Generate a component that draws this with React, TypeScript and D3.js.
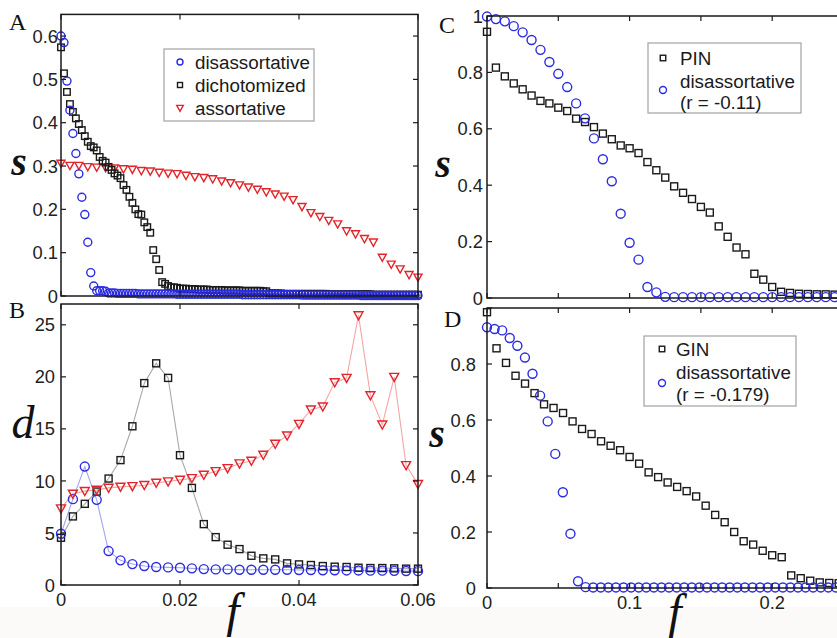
import React from "react";
import * as d3 from "d3";

// ---------------- DATA ----------------
// Panel A: s vs f (f step 0.0005 for circles/squares, 0.0015 for triangles)
const A_F_STEP = 0.0005;
const A_TRI_STEP = 0.0015;
const aDisassortative = [
  0.6, 0.585, 0.496, 0.429, 0.375, 0.329, 0.282, 0.228, 0.188, 0.124, 0.054, 0.023, 0.012, 0.012, 0.012, 0.011,
  0.007, 0.007, 0.007, 0.006, 0.006, 0.006, 0.006, 0.006, 0.006, 0.006, 0.005, 0.005, 0.005, 0.005, 0.005, 0.005,
  0.005, 0.005, 0.005, 0.005, 0.005, 0.005, 0.005, 0.004, 0.004,
  0.004, 0.004, 0.004, 0.004, 0.004, 0.004, 0.004, 0.004, 0.004, 0.004, 0.004, 0.004, 0.004, 0.004, 0.004, 0.004,
  0.004, 0.004, 0.004, 0.004, 0.003, 0.003, 0.003, 0.003, 0.003, 0.003, 0.003, 0.003, 0.003, 0.003, 0.003, 0.003,
  0.003, 0.003, 0.003, 0.003, 0.003, 0.003, 0.003, 0.003,
  0.002, 0.002, 0.002, 0.002, 0.002, 0.002, 0.002, 0.002, 0.002, 0.002, 0.002, 0.002, 0.002, 0.002, 0.002, 0.002,
  0.002, 0.002, 0.002, 0.002, 0.001, 0.001, 0.001, 0.001, 0.001, 0.001, 0.001, 0.001, 0.001, 0.001, 0.001, 0.001,
  0.001, 0.001, 0.001, 0.001, 0.001, 0.001, 0.001, 0.001,
];
const aDichotomized = [
  0.574, 0.514, 0.471, 0.443, 0.425, 0.41, 0.397, 0.383, 0.369, 0.356, 0.346, 0.343, 0.336, 0.321, 0.312, 0.308,
  0.298, 0.291, 0.283, 0.278, 0.272, 0.256, 0.245, 0.229, 0.215, 0.2, 0.189, 0.188, 0.17, 0.159, 0.146, 0.106,
  0.085, 0.06, 0.032, 0.028, 0.023, 0.02, 0.02, 0.019, 0.017,
  0.017, 0.017, 0.016, 0.016, 0.016, 0.015, 0.015, 0.015, 0.015, 0.014, 0.014, 0.014, 0.014, 0.014, 0.013, 0.013,
  0.013, 0.013, 0.013, 0.013, 0.012, 0.012, 0.012, 0.012, 0.012, 0.012, 0.012, 0.011, 0.011,
  0.006, 0.006, 0.006, 0.006, 0.006, 0.005, 0.005, 0.005, 0.005, 0.005, 0.005, 0.005, 0.005, 0.005, 0.005, 0.005,
  0.005, 0.005, 0.005, 0.005, 0.004, 0.004, 0.004, 0.004, 0.004, 0.004, 0.004, 0.004, 0.004, 0.004, 0.004, 0.004,
  0.004, 0.004, 0.004, 0.003, 0.003, 0.003, 0.003, 0.003, 0.003, 0.003, 0.003, 0.003, 0.003, 0.003, 0.003, 0.003,
  0.003, 0.003, 0.003,
];
const aAssortative = [
  0.306, 0.301, 0.301, 0.298, 0.297, 0.296, 0.295, 0.293, 0.292, 0.289, 0.288, 0.285, 0.283, 0.282, 0.278, 0.275,
  0.273, 0.27, 0.265, 0.261, 0.256, 0.251, 0.246, 0.24, 0.235, 0.23, 0.222, 0.206, 0.192, 0.183, 0.174, 0.166,
  0.15, 0.143, 0.132, 0.124, 0.089, 0.073, 0.062, 0.049, 0.043,
];

// Panel B: d vs f (f step 0.002)
const B_F_STEP = 0.002;
const bDisassortative = [
  4.92, 8.25, 11.38, 8.18, 3.26, 2.37, 2.01, 1.82, 1.73, 1.69, 1.66, 1.6, 1.53, 1.5, 1.5, 1.47,
  1.47, 1.47, 1.47, 1.47, 1.44, 1.44, 1.42, 1.42, 1.4, 1.4, 1.38, 1.38, 1.36, 1.35, 1.33,
];
const bDichotomized = [
  4.54, 6.59, 7.8, 8.98, 10.23, 12.0, 15.25, 19.4, 21.3, 19.9, 12.47, 9.33, 5.85, 4.6, 3.87, 3.45,
  2.81, 2.56, 2.46, 2.08, 1.98, 1.92, 1.82, 1.76, 1.73, 1.66, 1.63, 1.63, 1.6, 1.57, 1.57,
];
const bAssortative = [
  7.35, 8.76, 9.02, 9.14, 9.33, 9.43, 9.49, 9.59, 9.81, 9.94, 10.1, 10.26, 10.58, 10.93, 11.22, 11.67,
  11.92, 12.5, 13.56, 14.35, 15.47, 16.85, 17.14, 19.47, 19.89, 25.9, 18.22, 15.41, 19.98, 11.5, 9.69,
];

// Panel C: s vs f (f step 1/160)
const C_F_STEP = 0.00625;
const cPIN = [
  0.944, 0.817, 0.786, 0.761, 0.74, 0.718, 0.699, 0.69, 0.675, 0.663, 0.636, 0.624, 0.606, 0.583, 0.563, 0.541,
  0.531, 0.514, 0.482, 0.453, 0.427, 0.396, 0.373, 0.351, 0.323, 0.303, 0.254, 0.217, 0.179, 0.155, 0.086, 0.065,
  0.039, 0.022, 0.018, 0.015, 0.014, 0.013, 0.013, 0.012, 0.012,
];
const cDisassortative = [
  0.998, 0.989, 0.981, 0.964, 0.942, 0.915, 0.88, 0.837, 0.795, 0.748, 0.69, 0.637, 0.566, 0.492, 0.414, 0.299,
  0.196, 0.136, 0.039, 0.02, 0.004, 0.003, 0.003, 0.003, 0.003, 0.003, 0.003, 0.003, 0.003, 0.003, 0.003, 0.003,
  0.003, 0.003, 0.003, 0.003, 0.003, 0.003, 0.003, 0.003, 0.003,
];

// Panel D: s vs f (squares step 1/150, circles step 0.25/47)
const D_SQ_STEP = 1 / 150;
const D_CI_STEP = 0.25 / 47;
const dGIN = [
  0.985, 0.856, 0.804, 0.758, 0.73, 0.696, 0.656, 0.643, 0.625, 0.595, 0.568, 0.55, 0.524, 0.508, 0.492, 0.468,
  0.444, 0.413, 0.396, 0.377, 0.361, 0.346, 0.327, 0.294, 0.261, 0.235, 0.2, 0.167, 0.155, 0.133, 0.117, 0.11,
  0.045, 0.035, 0.026, 0.02, 0.018, 0.017,
];
const dDisassortative = [
  0.931, 0.925, 0.92, 0.893, 0.865, 0.823, 0.765, 0.687, 0.595, 0.479, 0.342, 0.194, 0.024, 0.003, 0.002, 0.002,
  0.002, 0.002, 0.002, 0.002, 0.002, 0.002, 0.002, 0.002, 0.002, 0.002, 0.002, 0.002, 0.002, 0.002, 0.002, 0.002,
  0.002, 0.002, 0.002, 0.002, 0.002, 0.002, 0.002, 0.002, 0.002, 0.002, 0.002, 0.002, 0.002, 0.002, 0.002, 0.002,
];

const aYTicks = [0, 0.1, 0.2, 0.3, 0.4, 0.5, 0.6];
const aYLabels = ["0", "0.1", "0.2", "0.3", "0.4", "0.5", "0.6"];
const bYTicks = [0, 5, 10, 15, 20, 25];
const bYLabels = ["0", "5", "10", "15", "20", "25"];
const abXTicks = [0, 0.02, 0.04, 0.06];
const abXLabels = ["0", "0.02", "0.04", "0.06"];
const cdYTicks = [0, 0.2, 0.4, 0.6, 0.8, 1];
const cYLabels = ["0", "0.2", "0.4", "0.6", "0.8", "1"];
const dYLabels = ["0", "0.2", "0.4", "0.6", "0.8", ""];
const cdXTicks = [0, 0.05, 0.1, 0.15, 0.2, 0.25];
const dXLabels = ["0", "", "0.1", "", "0.2", ""];

const legendA = ["disassortative", "dichotomized", "assortative"];
const legendC = ["PIN", "disassortative", "(r = -0.11)"];
const legendD = ["GIN", "disassortative", "(r = -0.179)"];

// ---------------- STYLE ----------------
const BLUE = "#2c2ce0";
const RED = "#e3242b";
const BLACK = "#1a1a1a";
const SANS = "'Liberation Sans', Arial, sans-serif";
const SERIF = "'Liberation Serif', 'Times New Roman', serif";
const TICK_FS = 18.3;
const LEG_FS = 18.8;

type Shape = "circle" | "square" | "tri";

function Marker({ x, y, shape, color, size }: { x: number; y: number; shape: Shape; color: string; size: number }) {
  if (shape === "circle")
    return <circle cx={x} cy={y} r={size / 2} fill="none" stroke={color} strokeWidth={1.4} />;
  if (shape === "square")
    return <rect x={x - size / 2} y={y - size / 2} width={size} height={size} fill="none" stroke={color} strokeWidth={1.4} />;
  const h = size * 0.9;
  const d = `M${x - size / 2},${y - h * 0.45}L${x + size / 2},${y - h * 0.45}L${x},${y + h * 0.55}Z`;
  return <path d={d} fill="none" stroke={color} strokeWidth={1.4} strokeLinejoin="miter" />;
}

type Series = { values: number[]; step: number; shape: Shape; color: string; size: number; line?: string };

function Panel(props: {
  xDomain: [number, number];
  xRange: [number, number];
  yDomain: [number, number];
  yRange: [number, number];
  yTicks: number[];
  yLabels: string[];
  yLabelX: number;
  xTicks: number[];
  xLabels?: string[];
  xLabelY?: number;
  series: Series[];
}) {
  const x = d3.scaleLinear().domain(props.xDomain).range(props.xRange);
  const y = d3.scaleLinear().domain(props.yDomain).range(props.yRange);
  const [x0, x1] = props.xRange;
  const [yb, yt] = props.yRange;
  const tl = 5;
  return (
    <g>
      {props.series.map((s, si) => {
        if (!s.line) return null;
        const gen = d3
          .line<number>()
          .x((_, i) => x(i * s.step))
          .y((v) => y(v));
        return <path key={"l" + si} d={gen(s.values) || ""} fill="none" stroke={s.line} strokeWidth={1.1} />;
      })}
      {props.series.map((s, si) => (
        <g key={"s" + si}>
          {s.values.map((v, i) => (
            <Marker key={i} x={x(i * s.step)} y={y(v)} shape={s.shape} color={s.color} size={s.size} />
          ))}
        </g>
      ))}
      <rect x={x0} y={yt} width={x1 - x0} height={yb - yt} fill="none" stroke={BLACK} strokeWidth={1.5} />
      {props.yTicks.map((t, i) => (
        <g key={"yt" + i}>
          <line x1={x0} x2={x0 + tl} y1={y(t)} y2={y(t)} stroke={BLACK} strokeWidth={1.2} />
          <line x1={x1} x2={x1 - tl} y1={y(t)} y2={y(t)} stroke={BLACK} strokeWidth={1.2} />
          <text x={props.yLabelX} y={y(t)} dy="0.36em" textAnchor="end" fontFamily={SANS} fontSize={TICK_FS} fill="#222">
            {props.yLabels[i]}
          </text>
        </g>
      ))}
      {props.xTicks.map((t, i) => (
        <g key={"xt" + i}>
          <line x1={x(t)} x2={x(t)} y1={yb} y2={yb - tl} stroke={BLACK} strokeWidth={1.2} />
          <line x1={x(t)} x2={x(t)} y1={yt} y2={yt + tl} stroke={BLACK} strokeWidth={1.2} />
          {props.xLabels && props.xLabels[i] ? (
            <text x={x(t)} y={props.xLabelY} dy="0.36em" textAnchor="middle" fontFamily={SANS} fontSize={TICK_FS} fill="#222">
              {props.xLabels[i]}
            </text>
          ) : null}
        </g>
      ))}
    </g>
  );
}

function Legend(props: {
  x: number; y: number; w: number; h: number;
  rows: { label: string; ty: number }[];
  marks: { shape: Shape; color: string; mx: number; my: number; size: number }[];
  tx: number;
}) {
  return (
    <g>
      <rect x={props.x} y={props.y} width={props.w} height={props.h} fill="#fff" stroke="#aaa" strokeWidth={1.3} />
      {props.marks.map((m, i) => (
        <Marker key={i} x={m.mx} y={m.my} shape={m.shape} color={m.color} size={m.size} />
      ))}
      {props.rows.map((r, i) => (
        <text key={i} x={props.tx} y={r.ty} dy="0.36em" fontFamily={SANS} fontSize={LEG_FS} fill="#1a1a1a">
          {r.label}
        </text>
      ))}
    </g>
  );
}

export default function App() {
  return (
    <svg
      width={837}
      height={638}
      style={{ position: "absolute", left: 0, top: 0, display: "block", background: "#fff" }}
    >
      <rect x={0} y={607} width={837} height={31} fill="#fcfaf9" />
      {/* Panel A */}
      <Panel
        xDomain={[0, 0.06]}
        xRange={[61, 418]}
        yDomain={[0, 0.65]}
        yRange={[296, 14.4]}
        yTicks={aYTicks}
        yLabels={aYLabels}
        yLabelX={58}
        xTicks={abXTicks}
        series={[
          { values: aAssortative, step: A_TRI_STEP, shape: "tri", color: RED, size: 8 },
          { values: aDichotomized, step: A_F_STEP, shape: "square", color: BLACK, size: 6.5 },
          { values: aDisassortative, step: A_F_STEP, shape: "circle", color: BLUE, size: 8 },
        ]}
      />
      {/* Panel B */}
      <Panel
        xDomain={[0, 0.06]}
        xRange={[61, 418]}
        yDomain={[0, 27]}
        yRange={[585, 304]}
        yTicks={bYTicks}
        yLabels={bYLabels}
        yLabelX={55}
        xTicks={abXTicks}
        xLabels={abXLabels}
        xLabelY={599}
        series={[
          { values: bDichotomized, step: B_F_STEP, shape: "square", color: BLACK, size: 7, line: "#a8a8a8" },
          { values: bDisassortative, step: B_F_STEP, shape: "circle", color: BLUE, size: 9, line: "#a4a4f2" },
          { values: bAssortative, step: B_F_STEP, shape: "tri", color: RED, size: 9, line: "#f4a6a6" },
        ]}
      />
      {/* Panel C */}
      <Panel
        xDomain={[0, 0.25]}
        xRange={[487, 843.5]}
        yDomain={[0, 1]}
        yRange={[298, 16]}
        yTicks={cdYTicks}
        yLabels={cYLabels}
        yLabelX={483}
        xTicks={cdXTicks}
        series={[
          { values: cPIN, step: C_F_STEP, shape: "square", color: BLACK, size: 7 },
          { values: cDisassortative, step: C_F_STEP, shape: "circle", color: BLUE, size: 9 },
        ]}
      />
      {/* Panel D */}
      <Panel
        xDomain={[0, 0.25]}
        xRange={[487, 843.5]}
        yDomain={[0, 1]}
        yRange={[588, 308]}
        yTicks={cdYTicks}
        yLabels={dYLabels}
        yLabelX={476}
        xTicks={cdXTicks}
        xLabels={dXLabels}
        xLabelY={602}
        series={[
          { values: dGIN, step: D_SQ_STEP, shape: "square", color: BLACK, size: 7 },
          { values: dDisassortative, step: D_CI_STEP, shape: "circle", color: BLUE, size: 9 },
        ]}
      />

      {/* Legends */}
      <Legend
        x={164} y={49} w={150} h={72}
        tx={195}
        rows={[{ label: legendA[0], ty: 62 }, { label: legendA[1], ty: 85 }, { label: legendA[2], ty: 108 }]}
        marks={[
          { shape: "circle", color: BLUE, mx: 180, my: 62, size: 6 },
          { shape: "square", color: BLACK, mx: 180, my: 85, size: 5 },
          { shape: "tri", color: RED, mx: 180, my: 108, size: 6.5 },
        ]}
      />
      <Legend
        x={648} y={43} w={153} h={70}
        tx={680}
        rows={[{ label: legendC[0], ty: 58 }, { label: legendC[1], ty: 81 }, { label: legendC[2], ty: 102 }]}
        marks={[
          { shape: "square", color: BLACK, mx: 663, my: 58, size: 5.5 },
          { shape: "circle", color: BLUE, mx: 663, my: 90, size: 7 },
        ]}
      />
      <Legend
        x={644} y={336} w={152} h={70}
        tx={676}
        rows={[{ label: legendD[0], ty: 349 }, { label: legendD[1], ty: 372 }, { label: legendD[2], ty: 394 }]}
        marks={[
          { shape: "square", color: BLACK, mx: 662, my: 349, size: 5.5 },
          { shape: "circle", color: BLUE, mx: 662, my: 383, size: 7 },
        ]}
      />

      {/* Panel letters */}
      <text x={9} y={30} fontFamily={SERIF} fontSize={24} fill="#111">A</text>
      <text x={9} y={318} fontFamily={SERIF} fontSize={24} fill="#111">B</text>
      <text x={439} y={33} fontFamily={SERIF} fontSize={24} fill="#111">C</text>
      <text x={444} y={327} fontFamily={SERIF} fontSize={24} fill="#111">D</text>

      {/* Axis labels */}
      <text x={19} y={175} textAnchor="middle" fontFamily={SERIF} fontStyle="italic" fontWeight="bold" fontSize={40} fill="#111">s</text>
      <text x={23} y={438} textAnchor="middle" fontFamily={SERIF} fontStyle="italic" fontSize={46} fill="#111">d</text>
      <text x={443} y={177} textAnchor="middle" fontFamily={SERIF} fontStyle="italic" fontWeight="bold" fontSize={40} fill="#111">s</text>
      <text x={437} y={447} textAnchor="middle" fontFamily={SERIF} fontStyle="italic" fontWeight="bold" fontSize={40} fill="#111">s</text>
      <text x={233} y={627} textAnchor="middle" fontFamily={SERIF} fontStyle="italic" fontSize={48} fill="#111">f</text>
      <text x={675} y={628} textAnchor="middle" fontFamily={SERIF} fontStyle="italic" fontSize={48} fill="#111">f</text>
    </svg>
  );
}
